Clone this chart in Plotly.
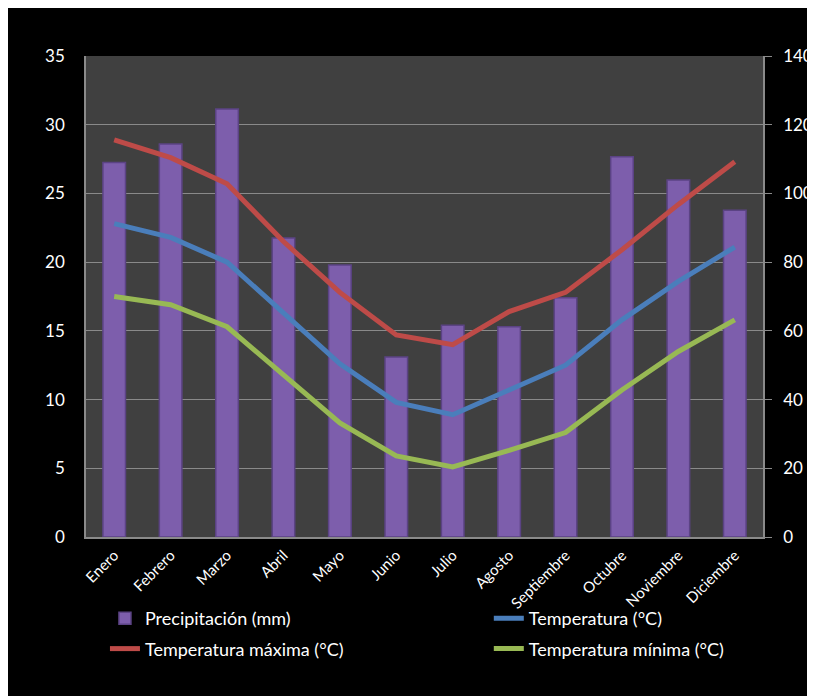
import plotly.graph_objects as go

# Datos climáticos mensuales
meses = ["Enero", "Febrero", "Marzo", "Abril", "Mayo", "Junio", "Julio",
         "Agosto", "Septiembre", "Octubre", "Noviembre", "Diciembre"]
precipitacion = [109, 114.4, 124.6, 87, 79.2, 52.4, 61.6, 61.2, 69.6, 110.7, 103.9, 95.1]
temp_media = [22.8, 21.8, 20.0, 16.3, 12.6, 9.8, 8.9, 10.7, 12.5, 15.8, 18.6, 21.1]
temp_maxima = [28.9, 27.6, 25.7, 21.5, 17.8, 14.7, 14.0, 16.4, 17.8, 20.9, 24.2, 27.3]
temp_minima = [17.5, 16.9, 15.3, 11.8, 8.3, 5.9, 5.1, 6.3, 7.6, 10.7, 13.5, 15.8]

ticks_izq = [0, 5, 10, 15, 20, 25, 30, 35]
ticks_der = [0, 20, 40, 60, 80, 100, 120, 140]

FUENTE = "Lato"
GRIS = "#8a8a8a"

fig = go.Figure()

# Barras en el eje primario (derecha), lineas encima en el eje superpuesto
fig.add_trace(go.Bar(
    x=meses, y=precipitacion, name="Precipitación (mm)", yaxis="y",
    width=0.4, legend="legend", legendgroup="a",
    marker=dict(color="#7d5eac", line=dict(color="#5b4384", width=1.5)),
))
fig.add_trace(go.Scatter(
    x=meses, y=temp_media, name="Temperatura (°C)", yaxis="y2",
    legend="legend2", legendgroup="b",
    mode="lines", line=dict(color="#4a7ebb", width=5),
))
fig.add_trace(go.Scatter(
    x=meses, y=temp_maxima, name="Temperatura máxima (°C)", yaxis="y2",
    legend="legend", legendgroup="c",
    mode="lines", line=dict(color="#be4b48", width=5),
))
fig.add_trace(go.Scatter(
    x=meses, y=temp_minima, name="Temperatura mínima (°C)", yaxis="y2",
    legend="legend2", legendgroup="d",
    mode="lines", line=dict(color="#98b954", width=5),
))

# dos leyendas de dos filas para imitar las dos columnas del original
leyenda = dict(
    orientation="v", yanchor="top", y=-0.131, xanchor="left",
    font=dict(size=18, color="white"), bgcolor="rgba(0,0,0,0)",
    traceorder="grouped", tracegroupgap=4,
)

fig.update_layout(
    width=815, height=696,
    margin=dict(l=78, r=60, t=48, b=167, autoexpand=False),
    paper_bgcolor="black",
    plot_bgcolor="#404040",
    font=dict(family=FUENTE, color="white", size=17),
    showlegend=True,
    xaxis=dict(
        showline=True, linecolor=GRIS, linewidth=1.5,
        showgrid=False, ticks="", tickangle=-45,
        tickfont=dict(size=15), ticklabelstandoff=2,
    ),
    yaxis=dict(
        side="right", range=[0, 140], tickvals=ticks_der,
        showgrid=True, gridcolor=GRIS, gridwidth=1,
        showline=True, linecolor=GRIS, linewidth=1.5,
        ticks="outside", ticklen=7, tickcolor=GRIS,
        ticklabelstandoff=8, zeroline=False,
    ),
    yaxis2=dict(
        side="left", overlaying="y", range=[0, 35], tickvals=ticks_izq,
        showgrid=False, showline=True, linecolor=GRIS, linewidth=1.5,
        ticks="", ticklabelstandoff=16, zeroline=False,
    ),
    legend=dict(leyenda, x=0.028),
    legend2=dict(leyenda, x=0.595),
)

fig.write_html("out.html")
